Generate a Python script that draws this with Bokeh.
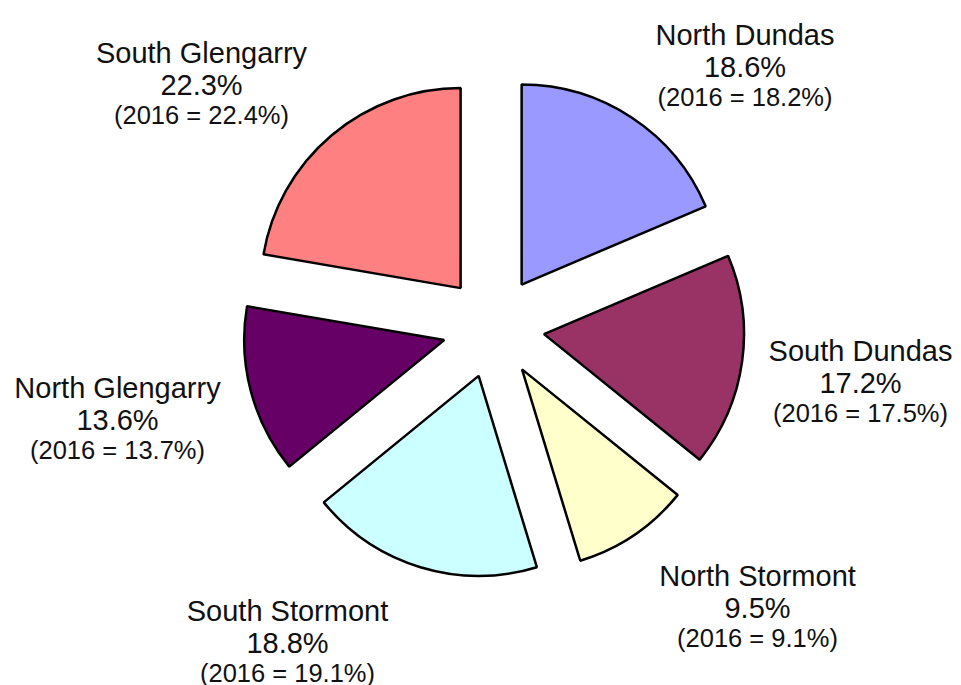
import math
from bokeh.plotting import figure
from bokeh.models import Range1d, ColumnDataSource
from bokeh.core.properties import value
from bokeh.embed import file_html
from bokeh.resources import INLINE

# ---- data ----
municipalities = ["North Dundas", "South Dundas", "North Stormont",
                  "South Stormont", "North Glengarry", "South Glengarry"]
share_2021 = [18.6, 17.2, 9.5, 18.8, 13.6, 22.3]
share_2016 = [18.2, 17.5, 9.1, 19.1, 13.7, 22.4]

# ---- style / layout ----
colors = ["#9999FF", "#993366", "#FFFFCC", "#CCFFFF", "#660066", "#FF8080"]
W, H = 961, 685
CX, CY = 493, H - 326.6      # pie centre (data units = pixels, y up)
R = 200                      # radius
EXPLODE = 51                 # explosion distance
# label anchor: centre x, baseline y (pixels from top) of first line
label_anchor = [(744.5, 34), (860, 350), (757, 575), (287, 610), (117, 387), (201, 52)]
LINE2_DY, LINE3_DY = 32.5, 62

total = sum(share_2021)
xs, ys, starts, ends = [], [], [], []
cum = 0.0
for v in share_2021:
    a0 = cum / total * 2 * math.pi
    cum += v
    a1 = cum / total * 2 * math.pi
    mid = math.pi / 2 - (a0 + a1) / 2
    xs.append(CX + EXPLODE * math.cos(mid))
    ys.append(CY + EXPLODE * math.sin(mid))
    starts.append(math.pi / 2 - a0)
    ends.append(math.pi / 2 - a1)

src = ColumnDataSource(dict(x=xs, y=ys, start=starts, end=ends, color=colors,
                            name=municipalities))

p = figure(width=W, height=H, x_range=Range1d(0, W), y_range=Range1d(0, H),
           output_backend="svg", toolbar_location=None, min_border=0)
p.axis.visible = False
p.grid.visible = False
p.outline_line_color = None
p.background_fill_color = "white"
p.border_fill_color = "white"

p.wedge(x="x", y="y", radius=R, start_angle="start", end_angle="end",
        direction="clock", fill_color="color", line_color="black",
        line_width=2.5, source=src)

lx, l1y, l2y, l3y, t1, t2, t3 = [], [], [], [], [], [], []
for (ax, ay), name, v, v16 in zip(label_anchor, municipalities, share_2021, share_2016):
    lx.append(ax)
    l1y.append(H - ay)
    l2y.append(H - ay - LINE2_DY)
    l3y.append(H - ay - LINE3_DY)
    t1.append(name)
    t2.append(f"{v:.1f}%")
    t3.append(f"(2016 = {v16:.1f}%)")

common = dict(text_align="center", text_baseline="alphabetic",
              text_font=value("Liberation Sans"), text_color="#111111")
p.text(x=lx, y=l1y, text=t1, text_font_size=value("29px"), **common)
p.text(x=lx, y=l2y, text=t2, text_font_size=value("29px"), **common)
p.text(x=lx, y=l3y, text=t3, text_font_size=value("25.5px"), **common)

open("out.html", "w").write(file_html(p, INLINE))
